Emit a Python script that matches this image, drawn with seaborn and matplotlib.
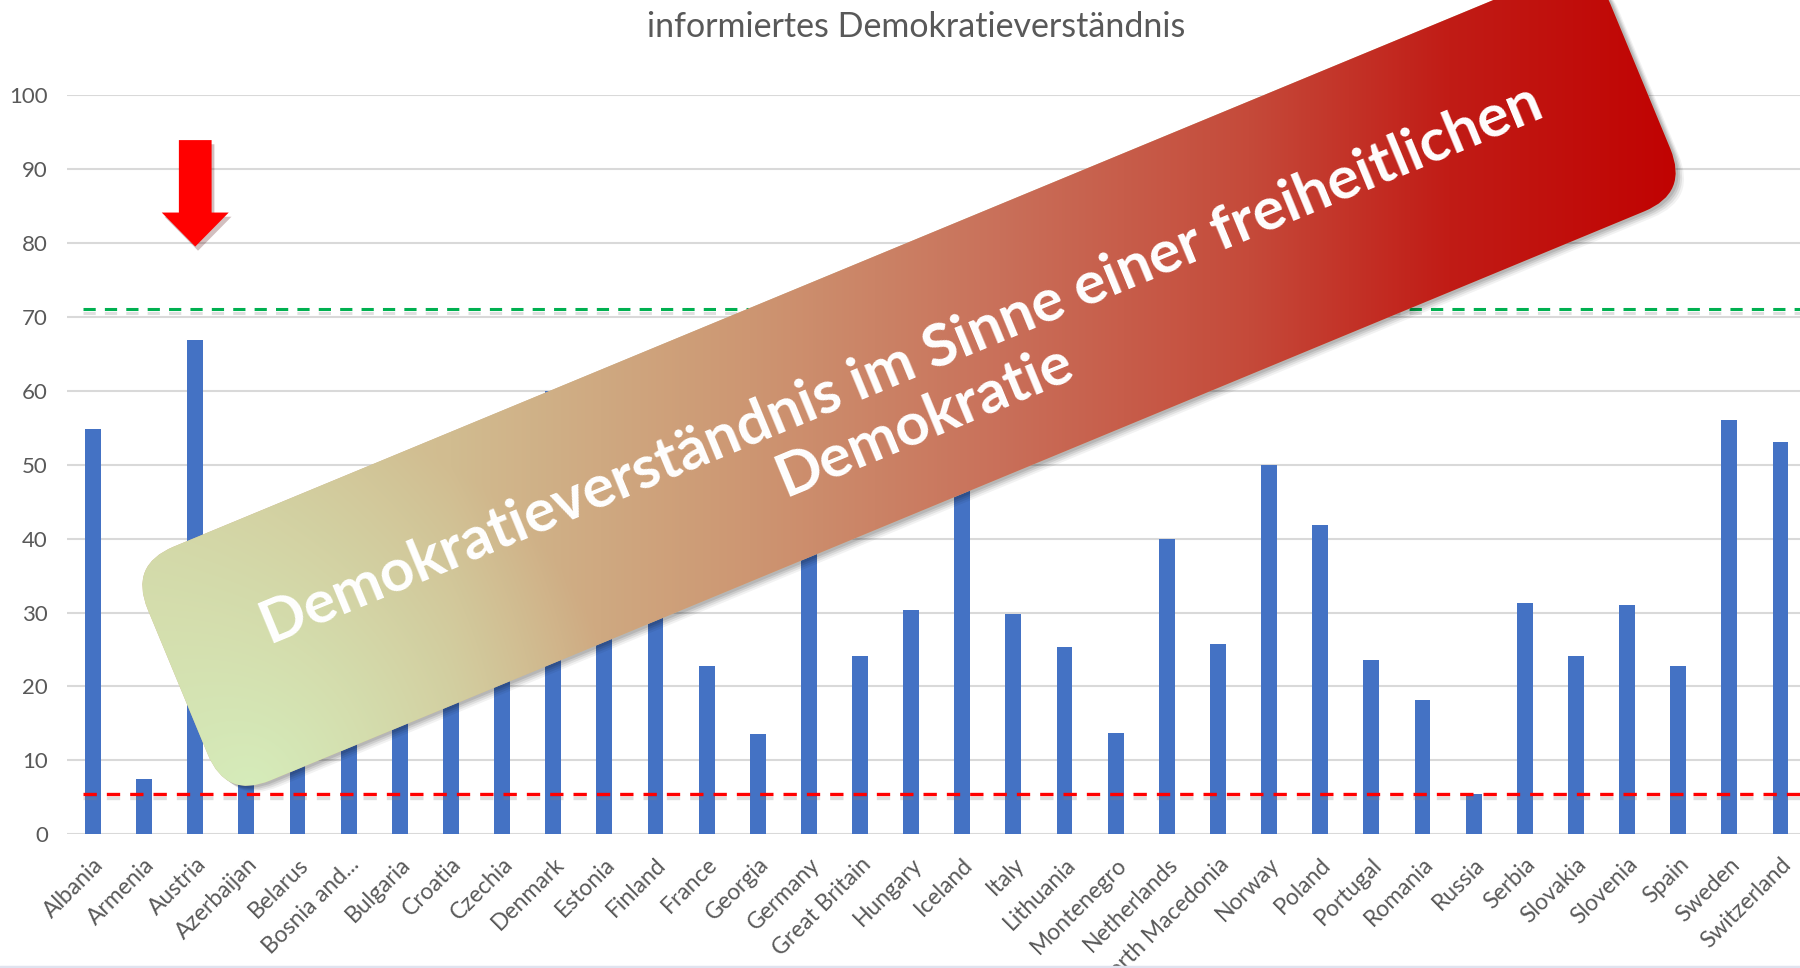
import numpy as np
import matplotlib
matplotlib.use("Agg")
import matplotlib.pyplot as plt
import matplotlib.patheffects as pe
from matplotlib.patches import FancyBboxPatch
from matplotlib.transforms import Affine2D
from matplotlib.colors import to_rgb
import seaborn as sns

# ---------------
# DATA
# ---------------
countries = [
    "Albania", "Armenia", "Austria", "Azerbaijan", "Belarus", "Bosnia and...",
    "Bulgaria", "Croatia", "Czechia", "Denmark", "Estonia", "Finland",
    "France", "Georgia", "Germany", "Great Britain", "Hungary", "Iceland",
    "Italy", "Lithuania", "Montenegro", "Netherlands", "North Macedonia",
    "Norway", "Poland", "Portugal", "Romania", "Russia", "Serbia",
    "Slovakia", "Slovenia", "Spain", "Sweden", "Switzerland",
]
# bars hidden behind the banner are estimated
values = [
    54.8, 7.5, 66.8, 10.0, 12.0, 15.0,
    20.0, 25.0, 28.0, 60.0, 35.0, 50.0,
    22.8, 13.6, 55.0, 24.1, 30.3, 62.0,
    29.8, 25.3, 13.7, 39.9, 25.8,
    49.9, 41.8, 23.6, 18.2, 5.4, 31.3,
    24.1, 31.0, 22.7, 56.1, 53.0,
]
upper_ref = 71.1
lower_ref = 5.45
yticks = list(range(0, 101, 10))

title = "informiertes Demokratieverständnis"
banner_text = "Demokratieverständnis im Sinne einer freiheitlichen\nDemokratie"
marked = "Austria"

# ---------------
# CHART
# ---------------
sns.set_theme(style="white")
plt.rcParams["font.family"] = ["Lato", "DejaVu Sans"]

W, H = 1800, 968
fig = plt.figure(figsize=(W / 100, H / 100), dpi=100)
fig.patch.set_facecolor("white")

ax = fig.add_axes([67.4 / W, 1 - 834.3 / H, (1806 - 67.4) / W, (834.3 - 95) / H])
sns.barplot(x=countries, y=values, color="#4472c4", saturation=1,
            width=0.31, linewidth=0, ax=ax, zorder=3)

ax.set_ylim(0, 100)
ax.set_xlim(-0.5, len(countries) - 0.5)
ax.set_yticks(yticks)
ax.grid(axis="y", color="#d9d9d9", linewidth=1.5, zorder=0)
ax.grid(axis="x", visible=False)
for s in ax.spines.values():
    s.set_visible(False)
ax.set_xlabel("")
ax.set_ylabel("")
ax.tick_params(axis="y", length=0, pad=14, labelsize=16, labelcolor="#595959")
ax.tick_params(axis="x", length=0, pad=14, labelsize=16.5, labelcolor="#595959")
for lab in ax.get_xticklabels():
    lab.set_rotation(45)
    lab.set_ha("right")
    lab.set_va("top")
    lab.set_rotation_mode("anchor")

shadow = [pe.SimpleLineShadow(offset=(0, -3), shadow_color="gray", alpha=0.25), pe.Normal()]
ax.hlines(upper_ref, -0.2, len(countries), colors="#00b050", linewidth=2.2,
          linestyles=(0, (4, 3)), zorder=4, path_effects=shadow, clip_on=False)
ax.hlines(lower_ref, -0.2, len(countries), colors="#ff0000", linewidth=2.4,
          linestyles=(0, (4, 3)), zorder=4, path_effects=shadow, clip_on=False)

# red arrow over the marked country
xi = countries.index(marked)
ax.arrow(xi, 93.9, 0, -14.4, width=0.64, head_width=1.31, head_length=4.6,
         length_includes_head=True, color="#ff0000", linewidth=0, zorder=6,
         clip_on=False,
         path_effects=[pe.SimplePatchShadow(offset=(2, -3), alpha=0.25), pe.Normal()])

fig.text(916 / W, 1 - 27 / H, title, ha="center", va="center",
         fontsize=24.5, color="#595959")

# ---------------
# BANNER OVERLAY (pixel coordinates)
# ---------------
ov = fig.add_axes([0, 0, 1, 1], zorder=10)
ov.set_xlim(0, W)
ov.set_ylim(H, 0)
ov.axis("off")
ov.patch.set_alpha(0)

cx, cy, L, Wd, ang = 909, 379, 1583, 253, 22.5
rot = Affine2D().rotate_deg_around(cx, cy, -ang) + ov.transData

# soft drop shadow: a few offset copies with low alpha
for off, a in [(9, 0.05), (7, 0.07), (5, 0.09), (3, 0.1)]:
    sh = FancyBboxPatch((cx - L / 2 + off * 0.6, cy - Wd / 2 + off), L, Wd,
                        boxstyle="round,pad=0,rounding_size=48",
                        facecolor="black", edgecolor="none", alpha=a,
                        transform=rot, zorder=1)
    ov.add_patch(sh)

band = FancyBboxPatch((cx - L / 2, cy - Wd / 2), L, Wd,
                      boxstyle="round,pad=0,rounding_size=48",
                      facecolor="#cfb68e", edgecolor="none", transform=rot, zorder=1.5)
ov.add_patch(band)

# colour gradient clipped to the banner
stops_x = [130, 450, 750, 1000, 1250, 1450, 1700]
stops_c = ["#d3d2a2", "#d1bc90", "#cd9672", "#c9705a", "#c54a3a", "#c11c16", "#c00000"]
gx = np.linspace(0, W, 450)
gy = np.linspace(0, H, 242)
XX, YY = np.meshgrid(gx, gy)
rgb = np.zeros(XX.shape + (3,))
cols = np.array([to_rgb(c) for c in stops_c])
for k in range(3):
    rgb[..., k] = np.interp(XX, stops_x, cols[:, k])
green = np.array(to_rgb("#d6f2c0"))
wgt = np.clip(1 - np.hypot(XX - 250, YY - 790) / 380, 0, 1)[..., None] * 0.85
rgb = rgb * (1 - wgt) + green * wgt
img = ov.imshow(rgb, extent=(0, W, H, 0), aspect="auto", zorder=2, interpolation="bilinear")
img.set_clip_path(band)
ov.set_xlim(0, W)
ov.set_ylim(H, 0)

ov.text(cx + 4, cy + 14, banner_text, rotation=ang, rotation_mode="anchor",
        ha="center", va="center", multialignment="center", color="white",
        fontsize=43, fontweight="bold", linespacing=1.15, zorder=3)

# thin strip along the bottom edge
fig.add_artist(plt.Line2D([0, 1], [1.5 / H, 1.5 / H], color="#dfe3ef", linewidth=2.5))

fig.savefig("out.png", dpi=100)
